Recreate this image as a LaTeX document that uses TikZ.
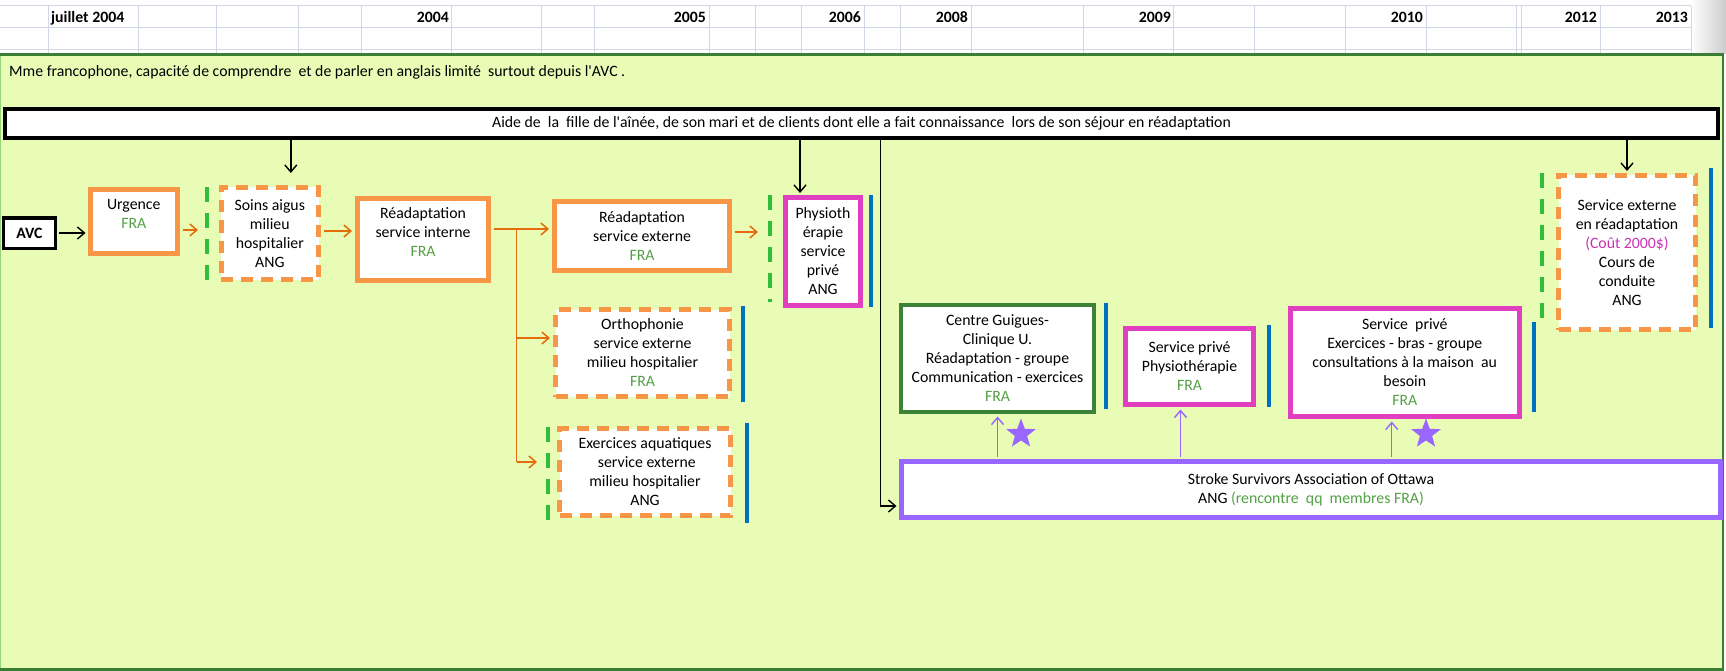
\documentclass[tikz,border=0pt]{standalone}
\usepackage{fontspec}
\setmainfont{Carlito}
\usetikzlibrary{arrows.meta,shapes.geometric}

\definecolor{panelfill}{RGB}{232,252,182}
\definecolor{paneledge}{RGB}{58,125,52}
\definecolor{panelleft}{RGB}{150,210,120}
\definecolor{gridline}{RGB}{208,215,229}
\definecolor{orangeedge}{RGB}{247,150,70}
\definecolor{orangearrow}{RGB}{228,108,10}
\definecolor{fragreen}{RGB}{84,160,70}
\definecolor{dashgreen}{RGB}{50,190,60}
\definecolor{barblue}{RGB}{0,112,192}
\definecolor{privmag}{RGB}{224,64,192}
\definecolor{assocpurple}{RGB}{153,102,255}
\definecolor{clinicgreen}{RGB}{60,130,55}
\definecolor{costmag}{RGB}{200,50,180}

\newcommand{\cellfont}{\fontsize{15.8}{19}\selectfont}
\newcommand{\fra}[1]{\textcolor{fragreen}{#1}}
\newcommand{\apos}{\textquotesingle}

\begin{document}
\begin{tikzpicture}[x=1pt, y=-1pt,
  every node/.style={font=\cellfont, inner sep=0pt, align=center, text=black},
  yearlabel/.style={font=\cellfont\bfseries, anchor=base east},
  solidorange/.style={draw=orangeedge, line width=5pt, fill=white},
  dashorange/.style={draw=orangeedge, line width=5pt, fill=white, dash pattern=on 12pt off 8pt},
  privbox/.style={draw=privmag, line width=5pt, fill=white},
  assocbox/.style={draw=assocpurple, line width=5pt, fill=white},
  clinicbox/.style={draw=clinicgreen, line width=4pt, fill=white},
  blackbox/.style={draw=black, line width=3.5pt, fill=white},
  flow/.style={draw=orangearrow, line width=1.5pt, shorten <=2.5pt, shorten >=3pt,
    -{Straight Barb[length=7pt,width=12pt,line width=1.5pt]}},
  flowline/.style={draw=orangearrow, line width=1.5pt},
  help/.style={draw=black, line width=1.4pt, shorten >=2pt,
    -{Straight Barb[length=7pt,width=12pt,line width=1.4pt]}},
  assoc/.style={draw=assocpurple, line width=1.4pt, shorten <=2.5pt, shorten >=2.5pt,
    -{Straight Barb[length=7pt,width=12pt,line width=1.4pt]}},
  greenbar/.style={draw=dashgreen, line width=4pt, dash pattern=on 15pt off 11pt},
  bluebar/.style={draw=barblue, line width=4pt},
  assocstar/.style={star, star points=5, star point ratio=2.4, fill=assocpurple,
    minimum size=31pt, inner sep=0pt}
]
\useasboundingbox (0,0) rectangle (1726,671);
\fill[white] (0,0) rectangle (1726,671);

% spreadsheet header grid
\shade[left color=white, right color=black!20] (1691,0) rectangle (1726,54);
\foreach \gy in {6,28,50}
  \draw[gridline, line width=1pt] (0,\gy) -- (1691,\gy);
\foreach \gx in {48,138,216,298,361,451,541,594,709,755,801,864,900,971.6,1083.7,1173.7,1254,1345,1426,1516,1521,1600,1691}
  \draw[gridline, line width=1pt] (\gx,6) -- (\gx,54);
\node[font=\cellfont\bfseries, anchor=base west] (yrjuil) at (51,23) {juillet 2004};
\foreach \gx/\yr in {449/2004,706/2005,861/2006,968/2008,1171/2009,1423/2010,1597/2012,1688/2013}
  \node[yearlabel] (yr\yr) at (\gx,23) {\yr};

% background panel
\fill[panelfill] (0,54) rectangle (1724,671);
\draw[panelleft, line width=1pt] (0.5,54) -- (0.5,669);
\draw[paneledge, line width=2pt] (1723,54) -- (1723,671);
\draw[paneledge, line width=3pt] (0,55) -- (1724,55);
\draw[paneledge, line width=3pt] (0,669.5) -- (1724,669.5);

\node[anchor=base west] (intro) at (9,77)
  {Mme francophone, capacité de comprendre\ \ et de parler en anglais limité\ \ surtout depuis l\apos AVC .};

% family support
\node[blackbox, minimum width=1713pt, minimum height=29pt] (aide) at (861.5,123.5)
  {Aide de\ \ la\ \ fille de l\apos aînée, de son mari et de clients dont elle a fait connaissance\ \ lors de son séjour en réadaptation};

% care pathway
\node[draw=black, line width=3pt, fill=white, minimum width=52pt, minimum height=30pt, font=\cellfont\bfseries]
  (avc) at (29.5,233) {AVC};
\node[solidorange, minimum width=87.5pt, minimum height=64pt] (urg) at (133.75,221.5)
  {Urgence\\\fra{FRA}\\[-4pt]\mbox{}};
\node[dashorange, minimum width=97.5pt, minimum height=92pt] (soins) at (269.8,233.5)
  {Soins aigus\\milieu\\hospitalier\\ANG};
\node[solidorange, minimum width=131pt, minimum height=82pt] (intern) at (423,239.5)
  {Réadaptation\\service interne\\\fra{FRA}\\[-4pt]\mbox{}};
\node[solidorange, minimum width=175pt, minimum height=69pt] (extern) at (642,236)
  {Réadaptation\\service externe\\\fra{FRA}};
\node[dashorange, minimum width=174pt, minimum height=87pt] (ortho) at (642.5,353)
  {Orthophonie\\service externe\\milieu hospitalier\\\fra{FRA}};
\node[dashorange, minimum width=171pt, minimum height=87pt] (aqua) at (645,472)
  {Exercices aquatiques\\\ service externe\\milieu hospitalier\\ANG};
\node[privbox, minimum width=75pt, minimum height=108pt] (physio) at (823,251.5)
  {Physioth\\érapie\\service\\privé\\ANG};
\node[clinicbox, minimum width=193pt, minimum height=107pt] (guig) at (997.5,358.5)
  {Centre Guigues-\\Clinique U.\\Réadaptation - groupe\\Communication - exercices\\\fra{FRA}};
\node[privbox, minimum width=128pt, minimum height=76pt] (pprive) at (1189.5,366.5)
  {Service privé\\Physiothérapie\\\fra{FRA}};
\node[privbox, minimum width=229.5pt, minimum height=108pt] (exer) at (1404.75,362.5)
  {Service\ \ privé\\Exercices - bras - groupe\\consultations à la maison\ \ au\\besoin\\\fra{FRA}};
\node[dashorange, minimum width=137pt, minimum height=154pt] (sext) at (1627,252.5)
  {Service externe\\en réadaptation\\\textcolor{costmag}{(Coût 2000\$)}\\Cours de\\conduite\\ANG};
\node[assocbox, minimum width=819pt, minimum height=56pt] (stroke) at (1311,489.5)
  {Stroke Survivors Association of Ottawa\\ANG \fra{(rencontre\ \ qq\ \ membres FRA)}};

\node[assocstar] (star1) at (1021,434) {};
\node[assocstar] (star2) at (1426,434) {};

% language-change markers
\coordinate (gb1) at (207,187);
\coordinate (gb2) at (770,195);
\coordinate (gb3) at (548,427);
\coordinate (gb4) at (1542,173);
\draw[greenbar] (gb1) -- ++(0,96);
\draw[greenbar] (gb2) -- ++(0,107);
\draw[greenbar] (gb3) -- ++(0,96);
\draw[greenbar] (gb4) -- ++(0,155);
\draw[bluebar] (870.7,195) -- (870.7,307);
\draw[bluebar] (743,306) -- (743,402);
\draw[bluebar] (747,423) -- (747,523);
\draw[bluebar] (1105.6,303) -- (1105.6,409);
\draw[bluebar] (1268.6,325) -- (1268.6,407);
\draw[bluebar] (1534,322) -- (1534,412);
\draw[bluebar] (1711,168) -- (1711,328);

% pathway arrows
\draw[help, shorten <=1.5pt] (avc.east) -- (avc.east -| urg.west);
\coordinate (u1) at ([yshift=-8.5pt]urg.east);
\draw[flow, shorten >=9pt] (u1) -- (u1 -| gb1);
\coordinate (s2) at ([yshift=2.5pt]soins.east);
\draw[flow] (s2) -- (s2 -| intern.west);
\coordinate (r1) at ([yshift=10.5pt]intern.east);
\draw[flow] (r1) -- (r1 -| extern.west);
\coordinate (br) at ([xshift=25.5pt]r1);
\coordinate (o1) at ([yshift=15pt]ortho.west);
\coordinate (q1) at ([yshift=10pt]aqua.west);
\draw[flowline] (br) -- (br |- q1);
\draw[flow, shorten <=0pt] (br |- o1) -- (o1);
\draw[flow, shorten <=0pt, shorten >=11pt] (br |- q1) -- (q1 -| gb3);
\coordinate (e1) at ([yshift=4pt]extern.east);
\draw[flow, shorten >=12pt] (e1) -- (e1 -| gb2);

% help from family
\coordinate (h1) at ([xshift=21pt]soins.north);
\draw[help, shorten >=12pt] (h1 |- aide.south) -- (h1);
\coordinate (h2) at ([xshift=-23pt]physio.north);
\draw[help] (h2 |- aide.south) -- (h2);
\draw[help] (sext.north |- aide.south) -- (sext.north);
\coordinate (lk) at (880.6,506);
\draw[help, shorten >=2.5pt] (lk |- aide.south) -- (lk) -- (lk -| stroke.west);

% association links
\draw[assoc] (guig.south |- stroke.north) -- (guig.south);
\coordinate (a2) at ([xshift=-9pt]pprive.south);
\draw[assoc] (a2 |- stroke.north) -- (a2);
\coordinate (a3) at ([xshift=-13pt]exer.south);
\draw[assoc] (a3 |- stroke.north) -- (a3);
\end{tikzpicture}
\end{document}
